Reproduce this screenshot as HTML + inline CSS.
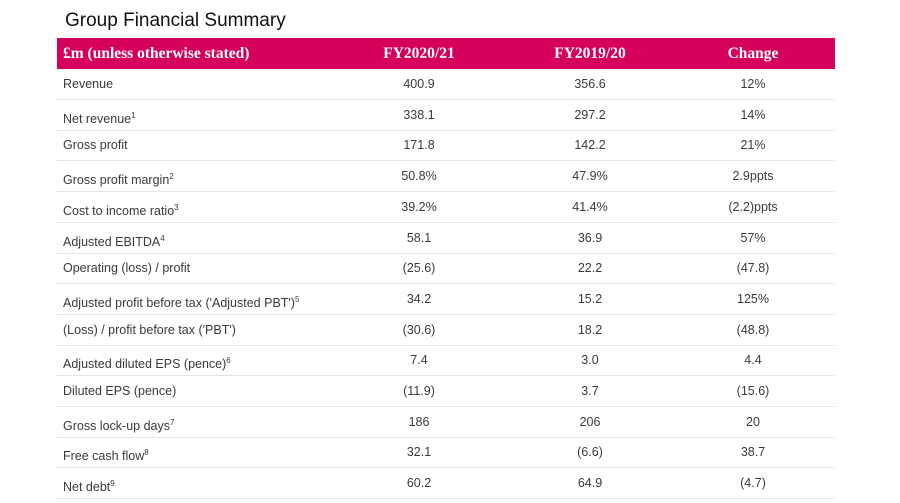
<!DOCTYPE html>
<html><head><meta charset="utf-8"><style>
body{margin:0;width:900px;height:500px;background:#fff;overflow:hidden;position:relative;font-family:"Liberation Sans",sans-serif;}
.title{position:absolute;left:65px;top:10px;font-size:19px;color:#111;}
.hdr{position:absolute;left:57px;top:38px;width:778px;height:31px;background:#d5005b;color:#fff;font-family:"Liberation Serif",serif;font-size:15.5px;font-weight:bold;}
.hdr div,.row div{position:absolute;top:0;line-height:31px;white-space:nowrap;}
.row{position:absolute;left:57px;width:778px;height:30px;border-bottom:1px solid #e6e6e6;font-size:12.5px;color:#3a3a3a;}
.c1{left:6px;}
.c2,.c3,.c4{transform:translateX(-50%);}
.c2{left:362px;}.c3{left:533px;}.c4{left:696px;}
sup{font-size:8px;vertical-align:5px;}
</style></head><body>
<div class="title">Group Financial Summary</div>
<div class="hdr">
<div class="c1">£m (unless otherwise stated)</div>
<div class="c2">FY2020/21</div>
<div class="c3">FY2019/20</div>
<div class="c4">Change</div>
</div>
<div id="rows"></div>
<script>
const labels=["Revenue","Net revenue<sup>1</sup>","Gross profit","Gross profit margin<sup>2</sup>","Cost to income ratio<sup>3</sup>","Adjusted EBITDA<sup>4</sup>","Operating (loss) / profit","Adjusted profit before tax ('Adjusted PBT')<sup>5</sup>","(Loss) / profit before tax ('PBT')","Adjusted diluted EPS (pence)<sup>6</sup>","Diluted EPS (pence)","Gross lock-up days<sup>7</sup>","Free cash flow<sup>8</sup>","Net debt<sup>9</sup>"];
const fy21=["400.9","338.1","171.8","50.8%","39.2%","58.1","(25.6)","34.2","(30.6)","7.4","(11.9)","186","32.1","60.2"];
const fy20=["356.6","297.2","142.2","47.9%","41.4%","36.9","22.2","15.2","18.2","3.0","3.7","206","(6.6)","64.9"];
const chg=["12%","14%","21%","2.9ppts","(2.2)ppts","57%","(47.8)","125%","(48.8)","4.4","(15.6)","20","38.7","(4.7)"];
const host=document.getElementById('rows');
labels.forEach((l,i)=>{
 const r=document.createElement('div');
 r.className='row';r.style.top=(69+i*30.7)+'px';
 
 
 const cells=[['c1',l,'row-label'],['c2',fy21[i],'fy2021-value'],['c3',fy20[i],'fy2020-value'],['c4',chg[i],'change-value']];
 cells.forEach(c=>{
  const d=document.createElement('div');
  d.className=c[0];d.innerHTML=c[1];
  
  
  r.appendChild(d);
 });
 host.appendChild(r);
});
</script>
</body></html>
